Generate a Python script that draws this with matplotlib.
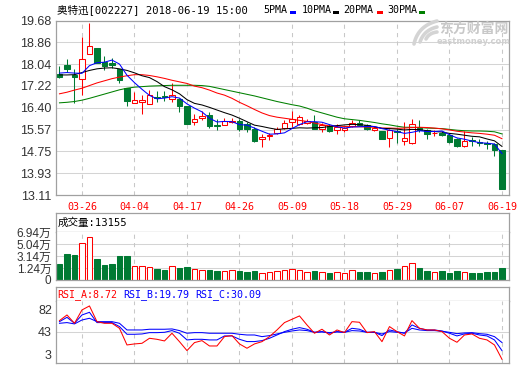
import numpy as np
import matplotlib
matplotlib.use('Agg')
import matplotlib.pyplot as plt
from matplotlib.patches import Rectangle
from matplotlib.lines import Line2D

W, H = 520, 365

dates = ['03-21', '03-22', '03-23', '03-26', '03-27', '03-28', '03-29', '03-30',
         '04-02', '04-03', '04-04', '04-09', '04-10', '04-11', '04-12', '04-13',
         '04-16', '04-17', '04-18', '04-19', '04-20', '04-23', '04-24', '04-25',
         '04-26', '04-27', '05-02', '05-03', '05-04', '05-07', '05-08', '05-09',
         '05-10', '05-11', '05-14', '05-15', '05-16', '05-17', '05-18', '05-21',
         '05-22', '05-23', '05-24', '05-25', '05-28', '05-29', '05-30', '05-31',
         '06-01', '06-04', '06-05', '06-06', '06-07', '06-08', '06-11', '06-12',
         '06-13', '06-14', '06-15', '06-19']
date_labels = ['03-26', '04-04', '04-17', '04-26', '05-09', '05-18', '05-29', '06-07', '06-19']

opens = [17.65, 17.99, 17.62, 17.47, 18.43, 18.63, 18.13, 18.09, 17.84, 17.12,
         16.57, 16.62, 16.55, 16.80, 16.84, 16.73, 16.73, 16.45, 15.85, 16.01,
         16.11, 15.73, 15.73, 15.86, 15.91, 15.78, 15.60, 15.20, 15.33, 15.45,
         15.63, 15.86, 15.79, 15.83, 15.86, 15.58, 15.69, 15.54, 15.56, 15.71,
         15.81, 15.74, 15.56, 15.51, 15.26, 15.52, 15.15, 15.07, 15.62, 15.55,
         15.44, 15.46, 15.38, 15.21, 14.96, 15.17, 15.12, 15.08, 15.02, 14.79]
highs = [17.98, 18.22, 17.84, 19.05, 19.58, 18.63, 18.34, 18.28, 17.84, 17.12,
         17.00, 16.89, 17.06, 17.01, 17.03, 17.31, 16.75, 16.45, 16.15, 16.27,
         16.24, 15.96, 16.01, 16.01, 15.99, 15.86, 15.67, 15.41, 15.45, 15.67,
         15.92, 16.28, 16.11, 15.98, 16.11, 15.83, 15.79, 15.79, 15.67, 15.92,
         15.92, 15.79, 15.69, 15.53, 15.58, 15.61, 15.87, 15.99, 15.92, 15.61,
         15.56, 15.52, 15.46, 15.27, 15.51, 15.30, 15.21, 15.15, 15.08, 14.80]
lows = [17.52, 17.75, 16.58, 16.87, 18.43, 18.09, 17.81, 17.91, 17.31, 16.45,
        16.57, 16.15, 16.53, 16.62, 16.65, 16.62, 16.25, 15.77, 15.73, 15.95,
        15.64, 15.54, 15.73, 15.83, 15.53, 15.50, 15.09, 14.93, 15.19, 15.41,
        15.60, 15.67, 15.76, 15.79, 15.58, 15.50, 15.47, 15.41, 15.50, 15.67,
        15.69, 15.55, 15.52, 15.22, 14.92, 15.05, 15.00, 15.02, 15.50, 15.23,
        15.33, 15.33, 15.08, 14.92, 14.92, 14.96, 14.96, 14.83, 14.56, 13.33]
closes = [17.55, 17.85, 17.56, 18.22, 18.71, 18.09, 17.96, 17.99, 17.44, 16.64,
          16.67, 16.70, 16.86, 16.78, 16.80, 16.89, 16.45, 15.80, 15.97, 16.10,
          15.70, 15.71, 15.91, 15.91, 15.58, 15.58, 15.16, 15.31, 15.38, 15.60,
          15.82, 15.96, 16.05, 15.90, 15.60, 15.73, 15.51, 15.67, 15.63, 15.83,
          15.76, 15.58, 15.63, 15.23, 15.56, 15.48, 15.27, 15.80, 15.55, 15.42,
          15.46, 15.37, 15.11, 14.96, 15.13, 15.13, 15.06, 15.02, 14.81, 13.33]

ma5 = [17.70, 17.72, 17.70, 17.69, 17.98, 18.09, 18.11, 18.19, 18.04, 17.62,
       17.34, 17.09, 16.86, 16.73, 16.76, 16.81, 16.76, 16.54, 16.38, 16.24,
       16.00, 15.86, 15.88, 15.87, 15.76, 15.74, 15.63, 15.51, 15.40, 15.41,
       15.45, 15.61, 15.76, 15.87, 15.87, 15.85, 15.76, 15.68, 15.63, 15.67,
       15.68, 15.69, 15.69, 15.61, 15.55, 15.50, 15.43, 15.47, 15.53, 15.50,
       15.50, 15.52, 15.38, 15.26, 15.21, 15.14, 15.08, 15.06, 15.03, 14.67]
ma10 = [17.63, 17.63, 17.64, 17.72, 17.80, 17.86, 17.89, 17.90, 17.86, 17.80,
        17.71, 17.60, 17.53, 17.38, 17.19, 17.07, 16.92, 16.70, 16.56, 16.50,
        16.41, 16.31, 16.21, 16.12, 16.00, 15.87, 15.74, 15.69, 15.63, 15.58,
        15.60, 15.62, 15.64, 15.63, 15.64, 15.65, 15.69, 15.72, 15.75, 15.77,
        15.76, 15.73, 15.68, 15.62, 15.61, 15.59, 15.56, 15.58, 15.57, 15.53,
        15.50, 15.48, 15.43, 15.40, 15.36, 15.32, 15.30, 15.22, 15.15, 14.94]
ma20 = [16.92, 16.98, 17.06, 17.13, 17.23, 17.33, 17.41, 17.49, 17.55, 17.60,
        17.64, 17.64, 17.61, 17.56, 17.50, 17.43, 17.37, 17.31, 17.21, 17.15,
        17.06, 16.95, 16.87, 16.75, 16.60, 16.47, 16.33, 16.20, 16.10, 16.04,
        16.00, 15.96, 15.92, 15.88, 15.82, 15.76, 15.71, 15.71, 15.69, 15.68,
        15.68, 15.67, 15.66, 15.63, 15.63, 15.62, 15.63, 15.65, 15.66, 15.65,
        15.63, 15.60, 15.56, 15.51, 15.48, 15.45, 15.43, 15.40, 15.36, 15.23]
ma30 = [16.58, 16.60, 16.63, 16.68, 16.75, 16.83, 16.91, 16.99, 17.07, 17.13,
        17.17, 17.19, 17.21, 17.22, 17.23, 17.24, 17.24, 17.24, 17.24, 17.23,
        17.20, 17.14, 17.08, 17.02, 16.96, 16.90, 16.84, 16.77, 16.70, 16.63,
        16.57, 16.51, 16.46, 16.38, 16.28, 16.20, 16.12, 16.04, 15.98, 15.95,
        15.92, 15.88, 15.84, 15.79, 15.75, 15.70, 15.66, 15.66, 15.65, 15.63,
        15.62, 15.61, 15.58, 15.55, 15.53, 15.52, 15.52, 15.51, 15.49, 15.41]

# volume in 万手
volume = [1.90, 3.49, 3.33, 5.19, 6.15, 2.69, 1.74, 1.90, 3.17, 3.17,
          1.63, 1.58, 1.37, 1.10, 0.94, 1.58, 1.26, 1.37, 1.05, 0.94,
          0.89, 0.78, 0.83, 0.94, 0.78, 0.67, 0.83, 0.51, 0.67, 0.83,
          0.94, 1.10, 0.94, 0.67, 0.78, 0.57, 0.51, 0.57, 0.51, 0.94,
          0.67, 0.67, 0.41, 0.67, 0.94, 1.10, 1.63, 2.01, 1.21, 0.83,
          0.57, 0.83, 0.51, 0.78, 0.67, 0.46, 0.46, 0.62, 0.62, 1.3155]

rsi_a = [58.0, 65.2, 54.6, 71.6, 76.7, 56.7, 54.6, 54.6, 48.2, 27.0,
         28.3, 29.1, 35.5, 34.2, 32.1, 41.9, 31.2, 19.8, 30.0, 32.5,
         25.7, 25.7, 37.6, 38.9, 28.3, 22.8, 28.3, 31.2, 37.6, 46.1,
         55.5, 59.7, 64.0, 52.5, 41.9, 47.0, 39.7, 46.1, 42.7, 56.7,
         55.9, 42.7, 44.0, 31.2, 50.4, 44.0, 38.5, 58.0, 48.2, 46.1,
         46.1, 44.0, 35.5, 30.4, 39.7, 41.0, 35.5, 33.4, 27.0, 8.72]
rsi_b = [56.7, 62.2, 54.6, 65.2, 68.6, 55.5, 55.5, 55.5, 50.4, 40.6,
         40.6, 41.0, 42.7, 42.7, 43.1, 45.3, 41.9, 33.4, 34.2, 34.2,
         33.4, 33.4, 38.5, 38.5, 34.2, 31.3, 31.3, 32.5, 35.5, 39.7,
         44.0, 47.0, 49.1, 47.0, 43.1, 44.0, 41.9, 44.0, 43.1, 48.2,
         47.0, 43.1, 43.1, 38.9, 46.1, 44.0, 41.9, 52.5, 48.2, 46.1,
         46.1, 44.8, 41.9, 38.5, 41.1, 41.9, 39.7, 38.5, 33.4, 19.79]
rsi_c = [54.6, 55.5, 53.8, 58.8, 61.0, 56.7, 56.7, 56.7, 54.6, 46.1,
         46.1, 46.1, 47.0, 47.0, 47.0, 47.4, 45.3, 41.9, 42.7, 42.7,
         41.9, 41.9, 41.9, 41.9, 40.6, 39.7, 39.7, 37.6, 38.9, 41.0,
         43.1, 44.8, 46.1, 45.3, 43.1, 43.6, 42.7, 43.6, 43.1, 45.3,
         44.8, 43.1, 43.1, 41.0, 44.0, 43.1, 42.3, 48.2, 46.1, 45.3,
         45.3, 44.4, 43.1, 41.4, 42.3, 42.7, 41.4, 40.6, 37.6, 30.09]

price_ticks = ['19.68', '18.86', '18.04', '17.22', '16.40', '15.57', '14.75', '13.93', '13.11']
vol_ticks = [6.94, 5.04, 3.14, 1.24]
vol_tick_labels = ['6.94万', '5.04万', '3.14万', '1.24万']
rsi_ticks = ['82', '43', '3']

RED = '#ff0000'
GREEN = '#007a33'
BLUE = '#0000ff'
FRAME = '#a0a0a0'
GRID = '#d4d4d4'
VGRID = '#c8c8c8'
LW = 0.75

MONO = ['DejaVu Sans Mono', 'Noto Sans CJK SC']
SANS = ['Liberation Sans', 'Noto Sans CJK SC']


def box(x0, y0, x1, y1):
    return [x0 / W, 1 - y1 / H, (x1 - x0) / W, (y1 - y0) / H]


def frame(ax):
    for s in ax.spines.values():
        s.set_color(FRAME)
        s.set_linewidth(0.9)


def vgrid(ax, positions):
    for p in positions:
        ax.axvline(p, color=VGRID, lw=LW, ls=(0, (4, 4)), zorder=0)


fig = plt.figure(figsize=(W / 100, H / 100), dpi=100)
n = len(closes)
x = list(range(n))
xlim = (-0.53, 59.87)
label_pos = [dates.index(d) for d in date_labels]

# ---- main price panel
ax = fig.add_axes(box(55.5, 20.5, 508.5, 195))
frame(ax)
ax.set_xlim(*xlim)
ax.set_ylim(float(price_ticks[-1]), float(price_ticks[0]))
for t in price_ticks[1:-1]:
    ax.axhline(float(t), color=GRID, lw=LW, zorder=0)
vgrid(ax, label_pos)

bw = 0.68
for i in range(n):
    o, h, l, c = opens[i], highs[i], lows[i], closes[i]
    if c >= o:
        ax.vlines(i, l, o, color=RED, lw=LW, zorder=2)
        ax.vlines(i, c, h, color=RED, lw=LW, zorder=2)
        ax.add_patch(Rectangle((i - bw / 2, o), bw, max(c - o, 0.01),
                               facecolor='white', edgecolor=RED, lw=LW, zorder=3))
    else:
        ax.vlines(i, l, h, color=GREEN, lw=LW, zorder=2)
        ax.add_patch(Rectangle((i - bw / 2, c), bw, o - c,
                               facecolor=GREEN, edgecolor=GREEN, lw=LW, zorder=3))

ax.plot(x, ma30, color='#008000', lw=LW, zorder=4)
ax.plot(x, ma20, color=RED, lw=LW, zorder=4)
ax.plot(x, ma10, color='black', lw=LW, zorder=4)
ax.plot(x, ma5, color=BLUE, lw=LW, zorder=4)

ax.set_yticks([float(t) for t in price_ticks])
ax.set_yticklabels(price_ticks, family=SANS, fontsize=9, color='#333333')
ax.set_xticks(label_pos)
ax.set_xticklabels(date_labels, family=MONO, fontsize=7.2, color=RED)
ax.tick_params(axis='both', length=0)
ax.tick_params(axis='y', pad=3)
ax.tick_params(axis='x', pad=5)

# title and MA legend
fig.text(57 / W, 1 - 9.5 / H, '奥特迅[002227] 2018-06-19 15:00', family=MONO,
         fontsize=7.6, va='center', ha='left')
legend = [('5PMA', BLUE, 263, 290), ('10PMA', 'black', 302, 333),
          ('20PMA', RED, 343, 377), ('30PMA', '#008000', 387, 419)]
for name, col, lx, rx in legend:
    fig.text(lx / W, 1 - 10 / H, name, family=MONO, fontsize=7.2, va='center', ha='left')
    fig.patches.append(Rectangle((rx / W, 1 - 14 / H), 6 / W, 2.5 / H, transform=fig.transFigure,
                                 facecolor=col, edgecolor='none'))

# watermark (logo swoosh + text)
tt = np.linspace(0, 1, 20)
for (x0, y0), (xc, yc), (x1, y1) in [((414, 44), (418, 26), (437, 21)),
                                     ((420, 42), (424, 30), (437, 27)),
                                     ((426, 39), (429, 33), (437, 32))]:
    bx = (1 - tt) ** 2 * x0 + 2 * (1 - tt) * tt * xc + tt ** 2 * x1
    by = (1 - tt) ** 2 * y0 + 2 * (1 - tt) * tt * yc + tt ** 2 * y1
    fig.lines.append(Line2D(bx / W, 1 - by / H, transform=fig.transFigure,
                            color='#d4d4d4', lw=2.6, solid_capstyle='round'))
fig.text(474 / W, 1 - 29 / H, '东方财富网', family=['Noto Sans CJK SC'], fontsize=10,
         fontweight='bold', color='#c8c8c8', ha='center', va='center')
fig.text(474 / W, 1 - 41 / H, 'eastmoney.com', family=['DejaVu Sans'], fontsize=6,
         fontweight='bold', color='#d0d0d0', ha='center', va='center')

# ---- volume panel
axvh = fig.add_axes(box(55.5, 213.3, 508.5, 232.3))
frame(axvh)
axvh.set_xticks([])
axvh.set_yticks([])
axvh.text(0.004, 0.5, '成交量:' + str(int(round(volume[-1] * 10000))), transform=axvh.transAxes,
          family=MONO, fontsize=7.6, va='center', ha='left')

axv = fig.add_axes(box(55.5, 232.3, 508.5, 280))
frame(axv)
axv.spines['top'].set_visible(False)
axv.set_xlim(*xlim)
vbot = -0.66
axv.set_ylim(vbot, vol_ticks[0])
for t in vol_ticks[1:]:
    axv.axhline(t, color=GRID, lw=LW, zorder=0)
vgrid(axv, label_pos)
vw = 0.74
for i in range(n):
    up = closes[i] >= opens[i]
    axv.add_patch(Rectangle((i - vw / 2, vbot), vw, volume[i] - vbot,
                            facecolor='white' if up else GREEN,
                            edgecolor=RED if up else GREEN, lw=LW, zorder=2))
axv.set_yticks(vol_ticks + [vbot + 0.1])
axv.set_yticklabels(vol_tick_labels + ['0'], family=SANS, fontsize=8.5, color='#333333')
axv.set_xticks([])
axv.tick_params(axis='y', length=0, pad=3)

# ---- RSI panel
axrh = fig.add_axes(box(55.5, 287.3, 508.5, 301))
frame(axrh)
axrh.set_xticks([])
axrh.set_yticks([])
rsi_head = [('RSI_A:%.2f' % rsi_a[-1], RED, 57), ('RSI_B:%.2f' % rsi_b[-1], BLUE, 123),
            ('RSI_C:%.2f' % rsi_c[-1], BLUE, 195)]
for txt, col, tx in rsi_head:
    fig.text(tx / W, 1 - 294.5 / H, txt, family=MONO, fontsize=7.2, color=col, va='center', ha='left')

axr = fig.add_axes(box(55.5, 301, 508.5, 363))
frame(axr)
axr.spines['top'].set_visible(False)
axr.set_xlim(*xlim)
axr.set_ylim(4, 83)
axr.axhline(float(rsi_ticks[1]), color=GRID, lw=LW, zorder=0)
vgrid(axr, label_pos)
axr.plot(x, rsi_c, color=BLUE, lw=LW)
axr.plot(x, rsi_b, color=BLUE, lw=LW)
axr.plot(x, rsi_a, color=RED, lw=LW)
axr.set_xticks([])
axr.set_yticks([])
for lab, fy in zip(rsi_ticks, [0.84, 0.48, 0.12]):
    axr.text(-0.008, fy, lab, transform=axr.transAxes, family=SANS, fontsize=9,
             color='#333333', ha='right', va='center')

fig.savefig('out.png', dpi=100)
